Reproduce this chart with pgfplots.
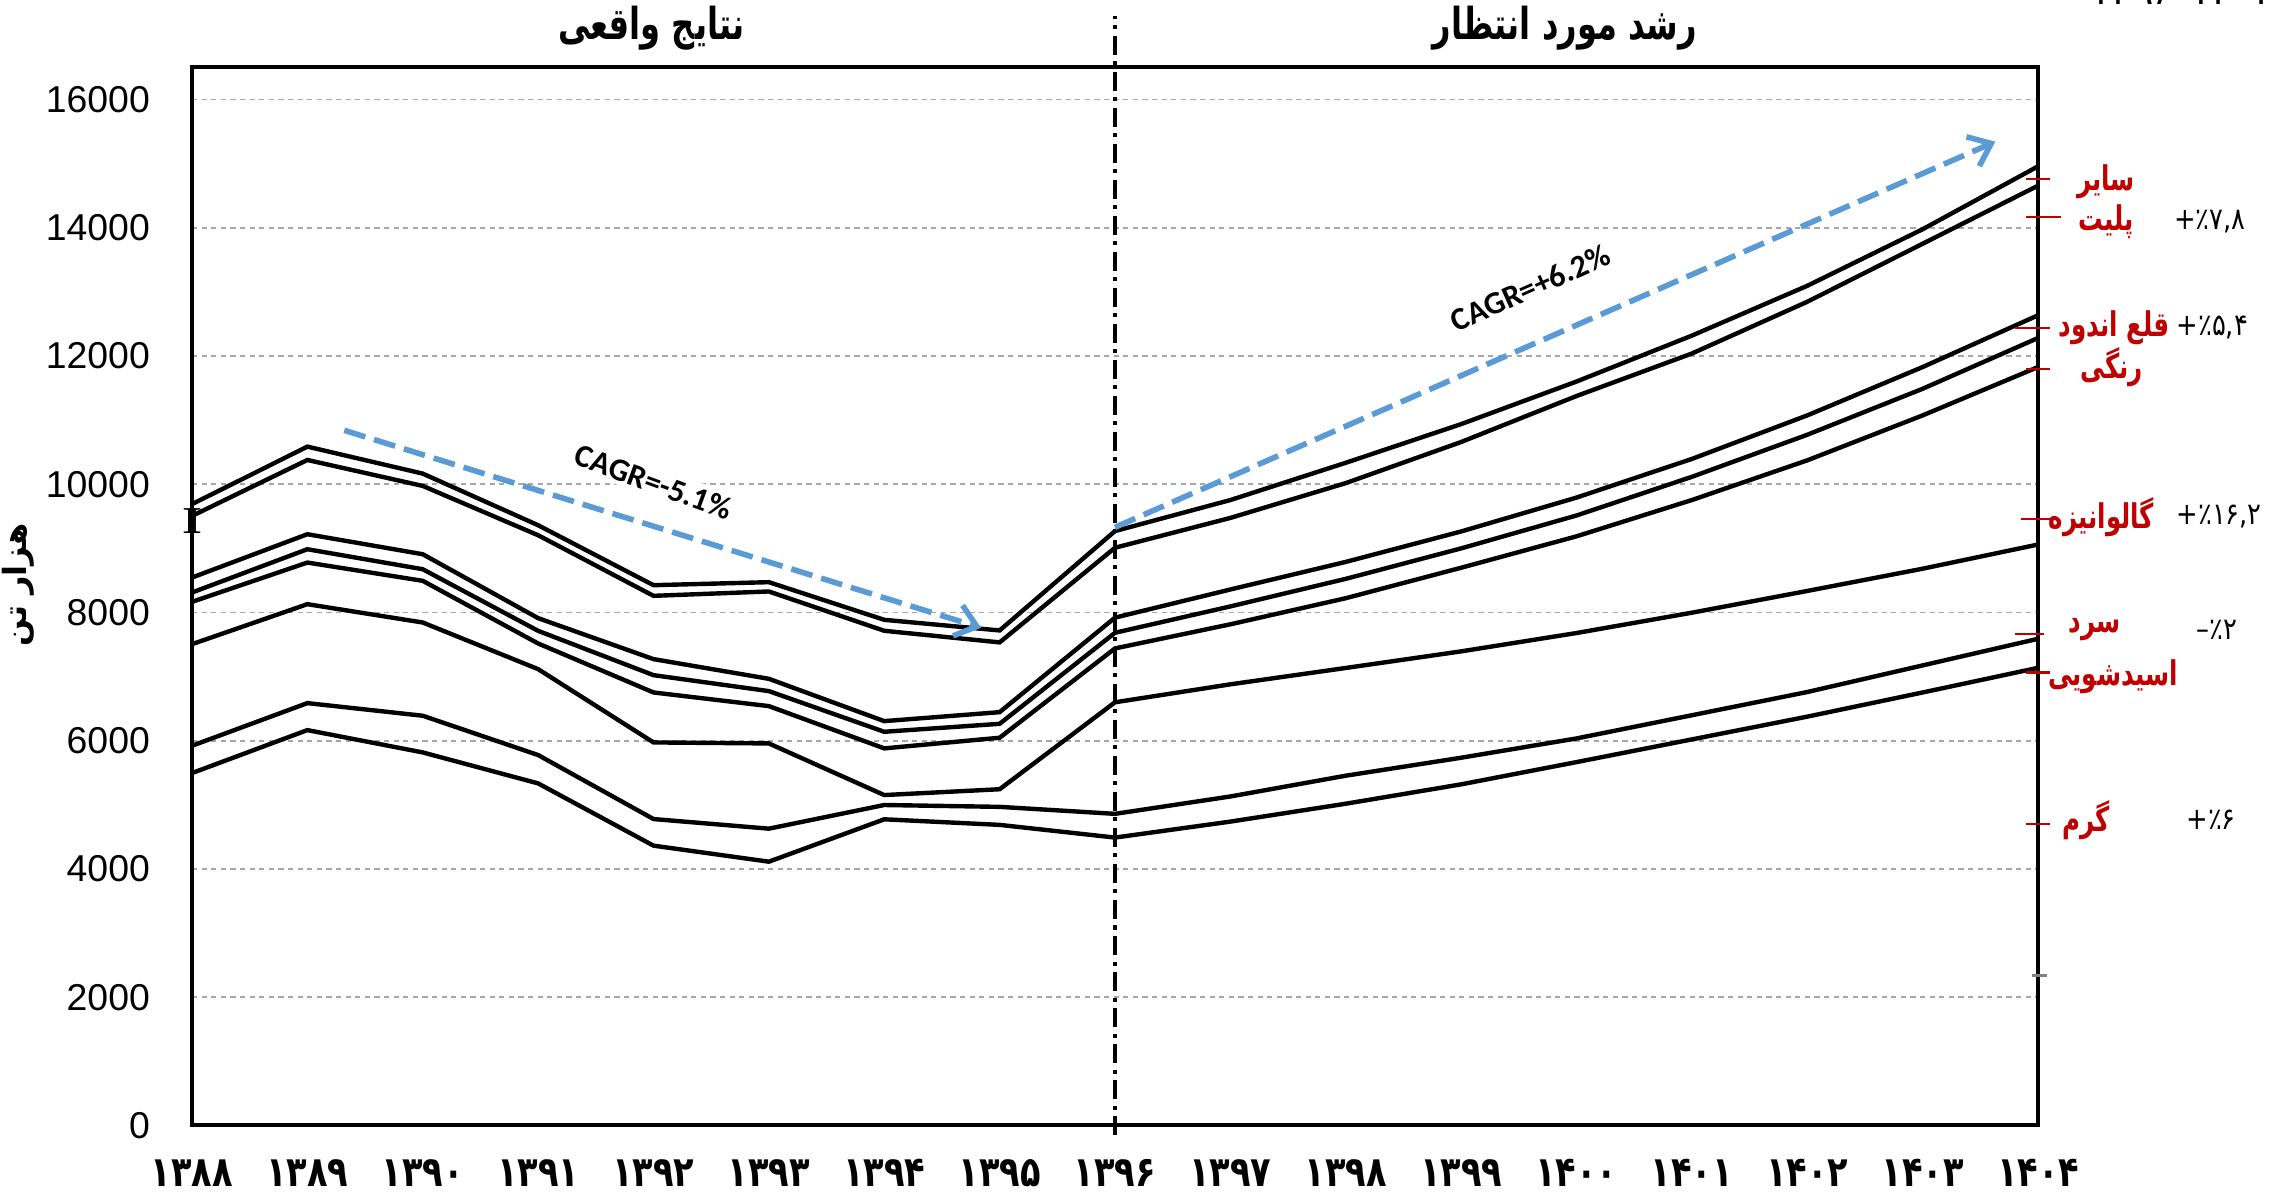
\documentclass[border=0pt]{standalone}
\usepackage{fontspec}
\usepackage{graphicx}
\usepackage{pgfplots}
\usepackage{pgfplotstable}
\pgfplotsset{compat=1.18}
\usetikzlibrary{arrows.meta}
\setmainfont{Liberation Sans}
\newfontfamily\arabicfont[Script=Arabic]{DejaVu Sans}
\newfontfamily\numfont{DejaVu Sans}
\newfontfamily\carlito{Carlito}
\newfontfamily\seriffont{Liberation Serif}
\TeXXeTstate=1
\definecolor{arrowblue}{HTML}{5B9BD5}
\definecolor{lblred}{HTML}{C00000}
\newcommand\xl[1]{\scalebox{0.8}[1]{#1}}
\newcommand\rl[1]{\scalebox{0.72}[1]{\beginR #1\endR}}
\newcommand\tl[1]{\scalebox{0.73}[1]{\beginR #1\endR}}
\newcommand\pl[1]{\scalebox{0.85}[1]{#1}}

\pgfplotstableread{
year s1 s2 s3 s4 s5 s6 s7 s8
1388 9690 9506 8545 8312 8166 7506 5922 5496
1389 10587 10379 9221 8987 8779 8130 6587 6166
1390 10166 9974 8909 8675 8494 7844 6390 5818
1391 9361 9205 7912 7714 7517 7117 5777 5335
1392 8426 8260 7273 7023 6753 5974 4779 4364
1393 8473 8328 6966 6774 6540 5958 4629 4114
1394 7886 7715 6306 6140 5881 5153 4998 4775
1395 7720 7534 6446 6264 6047 5244 4969 4688
1396 9270 9010 7920 7684 7440 6600 4860 4490
1397 9754 9475 8359 8095 7816 6880 5131 4739
1398 10335 10018 8789 8525 8223 7135 5455 5018
1399 10938 10659 9264 9000 8698 7394 5735 5320
1400 11602 11376 9792 9513 9188 7680 6036 5667
1401 12318 12039 10395 10116 9754 7997 6398 6021
1402 13095 12846 11074 10772 10373 8336 6760 6376
1403 13977 13751 11828 11489 11074 8683 7175 6753
1404 14958 14656 12635 12281 11828 9060 7590 7137
}\datatable

\begin{document}
\begin{tikzpicture}
\begin{axis}[
  at={(0,0)}, anchor=south west,
  scale only axis, width=461.5pt, height=264.5pt,
  xmin=1388, xmax=1404, ymin=0, ymax=16500,
  xtick={1388,1389,1390,1391,1392,1393,1394,1395,1396,1397,1398,1399,1400,1401,1402,1403,1404},
  xticklabels={\xl{۱۳۸۸},\xl{۱۳۸۹},\xl{۱۳۹۰},\xl{۱۳۹۱},\xl{۱۳۹۲},\xl{۱۳۹۳},\xl{۱۳۹۴},\xl{۱۳۹۵},\xl{۱۳۹۶},\xl{۱۳۹۷},\xl{۱۳۹۸},\xl{۱۳۹۹},\xl{۱۴۰۰},\xl{۱۴۰۱},\xl{۱۴۰۲},\xl{۱۴۰۳},\xl{۱۴۰۴}},
  ytick={0,2000,4000,6000,8000,10000,12000,14000,16000},
  yticklabels={0,2000,4000,6000,8000,10000,12000,14000,16000},
  scaled y ticks=false,
  major tick length=0pt,
  ymajorgrids,
  grid style={black!35, dash pattern=on 1.3pt off 1.1pt, line width=0.45pt},
  axis line style={black, line width=1pt},
  clip=false,
  xticklabel style={font=\numfont\bfseries\fontsize{10.5}{12}\selectfont, yshift=-5pt},
  yticklabel style={font=\fontsize{9.35}{11}\selectfont, xshift=-7pt},
  every axis plot post/.append style={black, solid, line width=1.1pt, mark=none},
]
\addplot table[x=year,y=s1] {\datatable};
\addplot table[x=year,y=s2] {\datatable};
\addplot table[x=year,y=s3] {\datatable};
\addplot table[x=year,y=s4] {\datatable};
\addplot table[x=year,y=s5] {\datatable};
\addplot table[x=year,y=s6] {\datatable};
\addplot table[x=year,y=s7] {\datatable};
\addplot table[x=year,y=s8] {\datatable};

% divider
\draw[black, line width=1.2pt, dash pattern=on 4.8pt off 1.6pt on 1pt off 1.6pt] (axis cs:1396,-150) -- (axis cs:1396,17300);

% CAGR arrows
\draw[arrowblue, line width=1.4pt, dash pattern=on 5.5pt off 2.3pt, -{Straight Barb[length=5pt, width=8pt]}] (axis cs:1389.32,10841) -- (axis cs:1394.84,7761);
\draw[arrowblue, line width=1.4pt, dash pattern=on 5.5pt off 2.3pt, -{Straight Barb[length=5pt, width=8pt]}] (axis cs:1396,9329) -- (axis cs:1403.63,15343);

\node[font=\carlito\bfseries\fontsize{8}{10}\selectfont, rotate=-20, fill=white, inner sep=1pt] at (axis cs:1392,10040) {CAGR=-5.1\%};
\node[font=\carlito\bfseries\fontsize{8}{10}\selectfont, rotate=24, fill=white, inner sep=1pt] at (axis cs:1399.6,13065) {CAGR=+6.2\%};

\coordinate (Ipos) at (axis cs:1388,9430);

% titles
\node[font=\arabicfont\bfseries\fontsize{11}{13}\selectfont] at (axis cs:1391.98,17106) {\tl{نتایج واقعی}};
\node[font=\arabicfont\bfseries\fontsize{11}{13}\selectfont] at (axis cs:1399.9,17106) {\tl{رشد مورد انتظار}};
\node[font=\numfont\fontsize{10}{12}\selectfont, anchor=base] at (axis cs:1405.25,17480) {۱۳۹۶-۱۴۰۴};

% y label
\node[font=\arabicfont\bfseries\fontsize{8}{10}\selectfont, rotate=90] at (axis cs:1386.49,8432) {\beginR هزار تن\endR};

% red leader ticks
\draw[lblred, line width=0.6pt] (axis cs:1403.9,14761) -- (axis cs:1404.1,14761);
\draw[lblred, line width=0.6pt] (axis cs:1403.9,14168) -- (axis cs:1404.2,14168);
\draw[lblred, line width=0.6pt] (axis cs:1403.8,12437) -- (axis cs:1404.1,12437);
\draw[lblred, line width=0.6pt] (axis cs:1403.9,11802) -- (axis cs:1404.1,11802);
\draw[lblred, line width=0.6pt] (axis cs:1403.85,9462) -- (axis cs:1404.1,9462);
\draw[lblred, line width=0.6pt] (axis cs:1403.8,7663) -- (axis cs:1404.05,7663);
\draw[lblred, line width=0.6pt] (axis cs:1403.9,7064) -- (axis cs:1404.1,7064);
\draw[lblred, line width=0.6pt] (axis cs:1403.9,4704) -- (axis cs:1404.1,4704);
\draw[black!50, line width=0.6pt] (axis cs:1403.95,2340) -- (axis cs:1404.08,2340);

% red category labels
\begin{scope}[every node/.style={font=\arabicfont\bfseries\fontsize{8.5}{10}\selectfont, text=lblred, inner sep=0pt}]
\node at (axis cs:1404.59,14719) {\rl{سایر}};
\node at (axis cs:1404.59,14095) {\rl{پلیت}};
\node at (axis cs:1404.66,12441) {\rl{قلع اندود}};
\node at (axis cs:1404.64,11833) {\rl{رنگی}};
\node at (axis cs:1404.55,9493) {\rl{گالوانیزه}};
\node at (axis cs:1404.49,7730) {\rl{سرد}};
\node at (axis cs:1404.65,6997) {\rl{اسیدشویی}};
\node at (axis cs:1404.42,4766) {\rl{گرم}};
\end{scope}

% growth labels
\begin{scope}[every node/.style={font=\numfont\fontsize{7.6}{9}\selectfont, text=black, inner sep=0pt}]
\node at (axis cs:1405.49,14095) {\pl{+٪۷,۸}};
\node at (axis cs:1405.51,12441) {\pl{+٪۵,۴}};
\node at (axis cs:1405.57,9493) {\pl{+٪۱۶,۲}};
\node at (axis cs:1405.55,7730) {\pl{–٪۲}};
\node at (axis cs:1405.50,4766) {\pl{+٪۶}};
\end{scope}
\end{axis}
\node[font=\seriffont\bfseries\fontsize{9.5}{11}\selectfont, text=black, inner sep=0pt] at (Ipos) {\scalebox{1.35}[1]{I}};
\pgfresetboundingbox
\path (-48pt,-17.125pt) rectangle (524.25pt,281.375pt);
\end{tikzpicture}
\end{document}
